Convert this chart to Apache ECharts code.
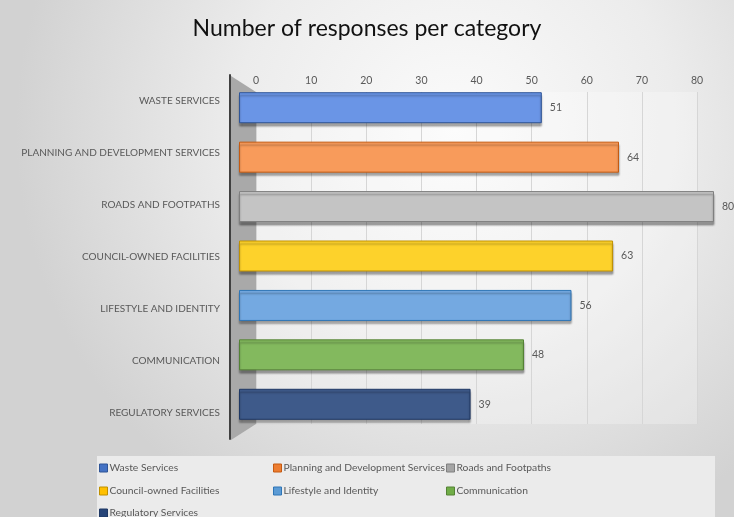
<!DOCTYPE html>
<html><head><meta charset="utf-8">
<script src="https://cdn.jsdelivr.net/npm/echarts@6/dist/echarts.min.js"></script>
<style>html,body{margin:0;padding:0;}#c{width:734px;height:517px;}</style>
</head><body><div id="c"></div>
<script>
const categories = ['WASTE SERVICES','PLANNING AND DEVELOPMENT SERVICES','ROADS AND FOOTPATHS','COUNCIL-OWNED FACILITIES','LIFESTYLE AND IDENTITY','COMMUNICATION','REGULATORY SERVICES'];
const seriesNames = ['Waste Services','Planning and Development Services','Roads and Footpaths','Council-owned Facilities','Lifestyle and Identity','Communication','Regulatory Services'];
const values = [51, 64, 80, 63, 56, 48, 39];
const tickValues = [0,10,20,30,40,50,60,70,80];
const baseColors = ['#4472c4','#ed7d31','#a5a5a5','#ffc000','#5b9bd5','#70ad47','#264478'];
const faceColors = ['#6a95e6','#f89b5b','#c4c4c4','#fdd22b','#74a9e1','#83b95e','#3e5a8a'];
const edgeColors = ['#2f5597','#c55a11','#7f7f7f','#bf9000','#2e75b6','#548235','#1f3864'];

const chart = echarts.init(document.getElementById('c'), null, {renderer:'canvas'});
const font = 'Lato, "Open Sans", sans-serif';

const series = seriesNames.map((name, i) => ({
  name, type: 'bar', stack: 'all', xAxisIndex: 0, yAxisIndex: 0,
  barWidth: 31,
  data: values.map((v, j) => j === i ? v : null),
  itemStyle: {
    color: faceColors[i],
    borderColor: edgeColors[i], borderWidth: 1,
    shadowColor: 'rgba(0,0,0,0.35)', shadowOffsetY: 3, shadowOffsetX: 0, shadowBlur: 2
  },
  label: { show: true, position: 'right', distance: 8, color: '#595959', fontSize: 10.5, fontFamily: font },
  emphasis: { disabled: true }
}));
series.push({ type: 'bar', xAxisIndex: 1, yAxisIndex: 1, data: [], silent: true });
series.push({ type: 'bar', xAxisIndex: 2, yAxisIndex: 2, data: [], silent: true });

// legend layout: [seriesIndex, left, top]
const legendSlots = [[0,99,463],[1,273,463],[2,446,463],[3,99,486],[4,273,486],[5,446,486],[6,99,508]];
const legends = legendSlots.map(([i, x, y]) => ({
  orient: 'horizontal', left: x, top: y, padding: 0,
  itemWidth: 8, itemHeight: 8, itemGap: 4, icon: 'rect',
  textStyle: { color: '#595959', fontSize: 10.3, fontFamily: font, padding: [0,0,0,-3] },
  data: [{ name: seriesNames[i], itemStyle: { color: baseColors[i], borderColor: edgeColors[i], borderWidth: 1, shadowBlur: 0, shadowOffsetY: 0 } }]
}));

chart.setOption({
  backgroundColor: { type: 'radial', x: 0.62, y: 0.25, r: 0.85, colorStops: [
    {offset: 0, color: '#fbfbfb'}, {offset: 0.5, color: '#ececec'}, {offset: 1, color: '#d2d2d2'}]},
  title: { text: 'Number of responses per category', left: 'center', top: 12,
    textStyle: { fontSize: 23, fontWeight: 'normal', color: '#111', fontFamily: font } },
  legend: legends,
  graphic: [
    { type: 'rect', shape: { x: 97, y: 456, width: 618, height: 70 }, style: { fill: '#ebebeb' }, z: -1 },
    { type: 'polygon', shape: { points: [[231,76],[256,92],[256,424],[231,440]] }, style: { fill: '#a9a9a9' }, z: 0 }
  ],
  grid: [
    { left: 239, width: 475, top: 83, height: 346 },
    { left: 256, width: 441, top: 92, height: 332, show: true, backgroundColor: 'rgba(255,255,255,0.25)', borderWidth: 0 },
    { left: 230, width: 480, top: 75, height: 364 }
  ],
  xAxis: [
    { type: 'value', gridIndex: 0, min: 0, max: 80, interval: 10, show: false },
    { type: 'value', gridIndex: 1, min: 0, max: 80, interval: 10, position: 'top',
      axisLine: { show: false }, axisTick: { show: false },
      axisLabel: { color: '#595959', fontSize: 10.5, fontFamily: font, margin: 6,
        formatter: v => tickValues.includes(v) ? String(v) : '' },
      splitLine: { show: true, lineStyle: { color: '#d6d6d6', width: 1 } } },
    { type: 'value', gridIndex: 2, min: 0, max: 80, show: false }
  ],
  yAxis: [
    { type: 'category', gridIndex: 0, data: categories, inverse: true, show: false },
    { type: 'category', gridIndex: 1, data: categories, inverse: true, show: false },
    { type: 'category', gridIndex: 2, data: categories, inverse: true,
      axisLine: { show: true, lineStyle: { color: '#404040', width: 2 } },
      axisTick: { show: false },
      axisLabel: { color: '#595959', fontSize: 10, fontFamily: font, margin: 10 } }
  ],
  series
});
</script></body></html>
